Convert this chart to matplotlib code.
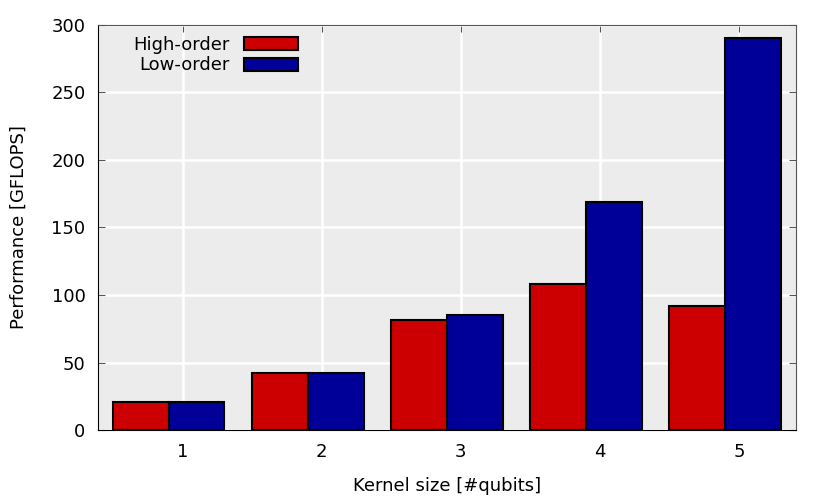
import matplotlib.pyplot as plt
import numpy as np

# datos
kernel_sizes = [1, 2, 3, 4, 5]
high_order = [21, 42, 81.5, 108.5, 92]
low_order = [21, 42.5, 85, 168.5, 290]

fig = plt.figure(figsize=(8.3, 4.98), dpi=100)
ax = fig.add_axes([0.118, 0.1365, 0.841, 0.8135])
ax.set_facecolor("#ececec")

x = np.array(kernel_sizes)
w = 0.4
ax.bar(x - 0.1 - w / 2, high_order, width=w, color="#cc0000", edgecolor="black",
       linewidth=1.5, label="High-order", zorder=3)
ax.bar(x - 0.1 + w / 2, low_order, width=w, color="#000099", edgecolor="black",
       linewidth=1.5, label="Low-order", zorder=3)

ax.set_xlim(0.39, 5.41)
ax.set_ylim(0, 300)
ax.set_xticks(kernel_sizes)
ax.set_yticks(range(0, 301, 50))
ax.grid(True, color="white", linewidth=1.8, zorder=1)
ax.set_axisbelow(True)
ax.tick_params(direction="in", top=True, right=True, labelsize=13, length=5,
               color="#555555")
ax.tick_params(axis="x", pad=9)
ax.tick_params(axis="y", pad=9)
for s in ["top", "right"]:
    ax.spines[s].set_color("#555555")

ax.set_xlabel("Kernel size [#qubits]", fontsize=13, labelpad=12)
ax.set_ylabel("Performance [GFLOPS]", fontsize=13, labelpad=17)

ax.legend(loc="upper left", frameon=False, markerfirst=False, fontsize=13,
          handlelength=3.0, handleheight=0.75, labelspacing=0.15,
          handletextpad=0.8, bbox_to_anchor=(0.035, 1.0), borderaxespad=0.2)

fig.savefig("out.png", dpi=100)
